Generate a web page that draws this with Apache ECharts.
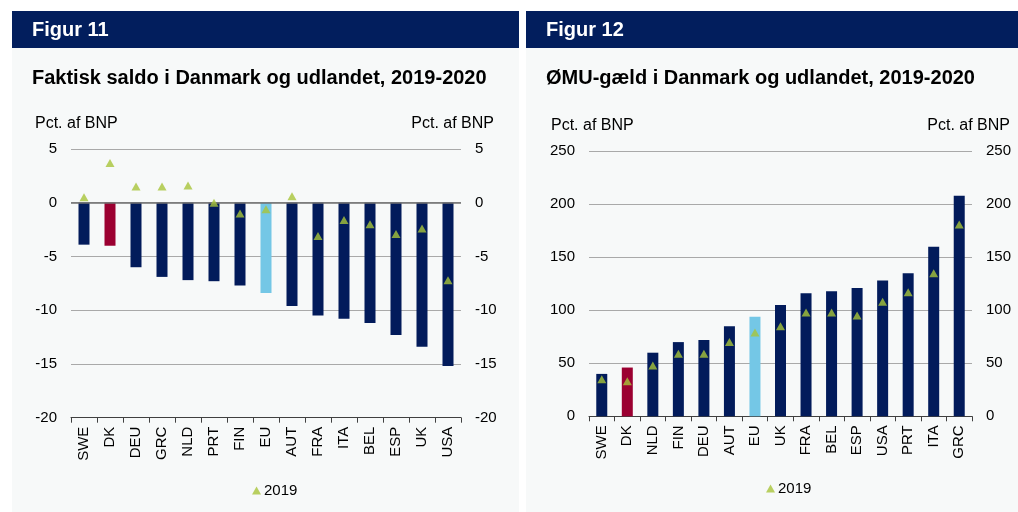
<!DOCTYPE html>
<html>
<head>
<meta charset="utf-8">
<script src="https://cdn.jsdelivr.net/npm/echarts@6/dist/echarts.min.js"></script>
<style>
  html, body { margin: 0; padding: 0; background: #fff; }
  #main { width: 1018px; height: 512px; }
</style>
</head>
<body>
<div id="main"></div>
<script>
// Figur 11: faktisk saldo, pct. af BNP
const saldoLande = ['SWE', 'DK', 'DEU', 'GRC', 'NLD', 'PRT', 'FIN', 'EU', 'AUT', 'FRA', 'ITA', 'BEL', 'ESP', 'UK', 'USA'];
const saldo2020 = [-3.9, -4.0, -6.0, -6.9, -7.2, -7.3, -7.7, -8.4, -9.6, -10.5, -10.8, -11.2, -12.3, -13.4, -15.2];
const saldo2019 = [0.5, 3.7, 1.5, 1.5, 1.6, 0.0, -1.0, -0.6, 0.6, -3.1, -1.6, -2.0, -2.9, -2.4, -7.2];
const saldoTicks = { min: -20, max: 5, interval: 5 };

// Figur 12: ØMU-gæld, pct. af BNP
const gaeldLande = ['SWE', 'DK', 'NLD', 'FIN', 'DEU', 'AUT', 'EU', 'UK', 'FRA', 'BEL', 'ESP', 'USA', 'PRT', 'ITA', 'GRC'];
const gaeld2020 = [40, 46, 60, 70, 72, 85, 94, 105, 116, 118, 121, 128, 135, 160, 208];
const gaeld2019 = [35, 33, 48, 59, 59, 70, 79, 85, 98, 98, 95, 108, 117, 135, 181];
const gaeldTicks = { min: 0, max: 250, interval: 50 };

const FONT = '"Liberation Sans", Arial, sans-serif';
const NAVY = '#021b5b';
const HEADER = '#021e5d';
const RED = '#9b0031';
const LIGHTBLUE = '#74c7e6';
const GREEN = '#a8c43a';
const PANEL = '#f7f9f9';

function barColor(params) {
  if (params.name === 'DK') return RED;
  if (params.name === 'EU') return LIGHTBLUE;
  return NAVY;
}

function xAxisFor(idx, cats) {
  return {
    type: 'category', gridIndex: idx, data: cats,
    axisLine: { onZero: false, lineStyle: { color: '#404040', width: 1 } },
    axisTick: { show: true, length: 5, lineStyle: { color: '#404040' } },
    axisLabel: { rotate: 90, margin: 9, color: '#000', fontSize: 15, fontFamily: FONT }
  };
}

function yAxisFor(idx, ticks, pos, grid) {
  return {
    type: 'value', gridIndex: idx, position: pos,
    min: ticks.min, max: ticks.max, interval: ticks.interval,
    axisLine: { show: false }, axisTick: { show: false },
    axisLabel: { color: '#000', fontSize: 15, fontFamily: FONT, margin: 14 },
    splitLine: { show: grid, lineStyle: { color: '#a9a9a9', width: 1 } }
  };
}

function headerGraphics(x, w, fig, title, unitLeftX, unitRightX, unitY) {
  return [
    { type: 'rect', shape: { x: x, y: 48, width: w, height: 464 }, style: { fill: PANEL }, z: -10 },
    { type: 'rect', shape: { x: x, y: 11, width: w, height: 37 }, style: { fill: HEADER }, z: -9 },
    { type: 'text', x: x + 20, y: 30, style: { text: fig, fill: '#fff', font: 'bold 20px ' + FONT, textVerticalAlign: 'middle' } },
    { type: 'text', x: x + 20, y: 78, style: { text: title, fill: '#000', font: 'bold 20px ' + FONT, textVerticalAlign: 'middle' } },
    { type: 'text', x: unitLeftX, y: unitY, style: { text: 'Pct. af BNP', fill: '#000', font: '16px ' + FONT, textVerticalAlign: 'middle' } },
    { type: 'text', x: unitRightX, y: unitY, style: { text: 'Pct. af BNP', fill: '#000', font: '16px ' + FONT, textVerticalAlign: 'middle', textAlign: 'right' } }
  ];
}

const chart = echarts.init(document.getElementById('main'));
chart.setOption({
  animation: false,
  backgroundColor: '#fff',
  textStyle: { fontFamily: FONT },
  graphic: [].concat(
    headerGraphics(12, 507, 'Figur 11', 'Faktisk saldo i Danmark og udlandet, 2019-2020', 35, 494, 124),
    headerGraphics(526, 492, 'Figur 12', 'ØMU-gæld i Danmark og udlandet, 2019-2020', 551, 1010, 126)
  ),
  grid: [
    { left: 71, top: 149, width: 390, height: 268.7 },
    { left: 589, top: 151.3, width: 383, height: 265 }
  ],
  xAxis: [xAxisFor(0, saldoLande), xAxisFor(1, gaeldLande)],
  yAxis: [
    yAxisFor(0, saldoTicks, 'left', true),
    yAxisFor(0, saldoTicks, 'right', false),
    yAxisFor(1, gaeldTicks, 'left', true),
    yAxisFor(1, gaeldTicks, 'right', false)
  ],
  legend: [
    {
      left: 247, top: 478, itemWidth: 9, itemHeight: 8, itemGap: 4,
      data: [{ name: '2019', icon: 'triangle' }],
      textStyle: { color: '#000', fontSize: 15, fontFamily: FONT, padding: [0, 0, 0, -2] }
    },
    {
      left: 761, top: 476, itemWidth: 9, itemHeight: 8, itemGap: 4,
      data: [{ name: '2019', icon: 'triangle' }],
      textStyle: { color: '#000', fontSize: 15, fontFamily: FONT, padding: [0, 0, 0, -2] }
    }
  ],
  series: [
    {
      name: '2020', type: 'bar', xAxisIndex: 0, yAxisIndex: 0, barWidth: 11,
      data: saldo2020, itemStyle: { color: barColor },
      markLine: {
        silent: true, symbol: 'none', label: { show: false },
        lineStyle: { color: '#6f6f6f', width: 1.5, type: 'solid' },
        data: [{ yAxis: 0 }]
      }
    },
    {
      name: '2019', type: 'scatter', xAxisIndex: 0, yAxisIndex: 0,
      symbol: 'triangle', symbolSize: [9, 8], data: saldo2019,
      itemStyle: { color: GREEN }, z: 5
    },
    {
      name: '2020', type: 'bar', xAxisIndex: 1, yAxisIndex: 2, barWidth: 11,
      data: gaeld2020, itemStyle: { color: barColor }
    },
    {
      name: '2019', type: 'scatter', xAxisIndex: 1, yAxisIndex: 2,
      symbol: 'triangle', symbolSize: [9, 8], data: gaeld2019,
      itemStyle: { color: GREEN }, z: 5
    }
  ]
});
</script>
</body>
</html>
